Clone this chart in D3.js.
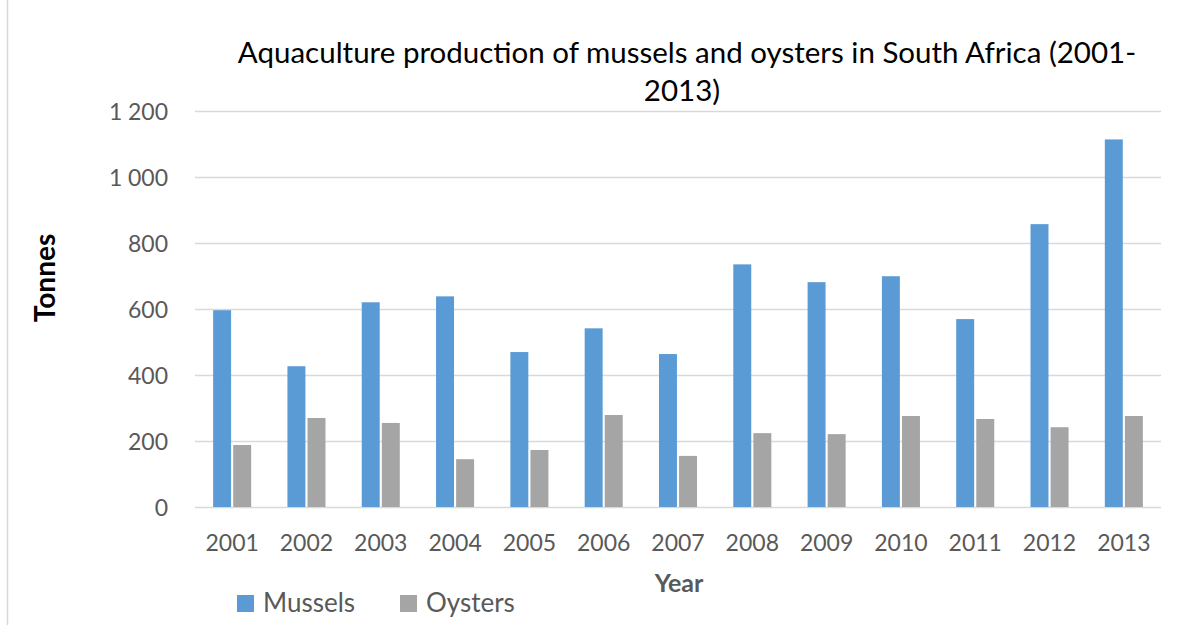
<!DOCTYPE html>
<html>
<head>
<meta charset="utf-8">
<script src="https://cdn.jsdelivr.net/npm/d3@7/dist/d3.min.js"></script>
<style>
  html, body { margin: 0; padding: 0; background: #fff; }
  svg { display: block; font-family: Lato, "Open Sans", sans-serif; }
</style>
</head>
<body>
<svg id="chart" width="1188" height="625"></svg>
<script>
// Annual aquaculture production (tonnes)
const years = ["2001","2002","2003","2004","2005","2006","2007","2008","2009","2010","2011","2012","2013"];
const seriesNames = ["Mussels", "Oysters"];
const mussels = [597, 427, 621, 639, 470, 542, 464, 736, 682, 700, 570, 858, 1115];
const oysters = [188, 270, 255, 145, 173, 279, 155, 224, 221, 276, 267, 242, 276];
const yTicks = [0, 200, 400, 600, 800, 1000, 1200];
const colors = ["#5B9BD5", "#A5A5A5"];

const svg = d3.select("#chart");
const textColor = "#595959";
const font = "Lato, 'Open Sans', sans-serif";

// left frame edge
svg.append("line")
  .attr("x1", 7.5).attr("x2", 7.5).attr("y1", 0).attr("y2", 625)
  .attr("stroke", "#d9d9d9").attr("stroke-width", 1.5);

const plot = { left: 195, right: 1161, top: 111.4, bottom: 507 };

const x0 = d3.scaleBand().domain(years)
  .range([plot.left, plot.right])
  .paddingInner(0.488).paddingOuter(0.244);
const x1 = d3.scaleBand().domain(seriesNames)
  .range([0, x0.bandwidth()])
  .paddingInner(0.105);
const y = d3.scaleLinear().domain([0, 1200]).range([plot.bottom, plot.top]);

// horizontal gridlines
svg.append("g").selectAll("line").data(yTicks).join("line")
  .attr("x1", plot.left).attr("x2", plot.right)
  .attr("y1", d => Math.round(y(d)) + 0.5).attr("y2", d => Math.round(y(d)) + 0.5)
  .attr("stroke", "#d9d9d9").attr("stroke-width", 1.5);

// y axis labels (thousands separated by a space)
const fmt = d => d >= 1000 ? d3.format(",")(d).replace(",", "\u2009\u2009") : String(d);
const yAxis = d3.axisLeft(y).tickValues(yTicks).tickSize(0).tickPadding(0).tickFormat(fmt);
svg.append("g")
  .attr("transform", "translate(168,0)")
  .call(yAxis)
  .call(g => g.select(".domain").remove())
  .call(g => g.selectAll("text")
    .attr("fill", textColor).attr("font-size", 23).attr("font-family", font)
    .attr("dy", "0.36em"));

// x axis labels
const xAxis = d3.axisBottom(x0).tickSize(0).tickPadding(0);
svg.append("g")
  .attr("transform", "translate(0,551)")
  .call(xAxis)
  .call(g => g.select(".domain").remove())
  .call(g => g.selectAll("text")
    .attr("fill", textColor).attr("font-size", 23).attr("font-family", font)
    .attr("y", 0).attr("dy", 0));

// bars
const rows = years.map((yr, i) => ({ year: yr, values: [mussels[i], oysters[i]] }));
svg.append("g").selectAll("g").data(rows).join("g")
  .attr("transform", d => `translate(${x0(d.year)},0)`)
  .selectAll("rect")
  .data(d => d.values.map((v, j) => ({ name: seriesNames[j], value: v, color: colors[j] })))
  .join("rect")
  .attr("x", d => x1(d.name))
  .attr("width", x1.bandwidth())
  .attr("y", d => y(d.value))
  .attr("height", d => y(0) - y(d.value))
  .attr("fill", d => d.color);

// title
const title = svg.append("text")
  .attr("text-anchor", "middle")
  .attr("fill", "#000")
  .attr("font-size", 29.5)
  .attr("font-family", font);
title.append("tspan").attr("x", 687).attr("y", 63)
  .text("Aquaculture production of mussels and oysters in South Africa (2001-");
title.append("tspan").attr("x", 682).attr("y", 101).text("2013)");

// axis titles
svg.append("text")
  .attr("transform", "translate(55,278) rotate(-90)")
  .attr("text-anchor", "middle")
  .attr("font-weight", "bold").attr("font-size", 28).attr("fill", "#000")
  .text("Tonnes");

svg.append("text")
  .attr("x", 679).attr("y", 592)
  .attr("text-anchor", "middle")
  .attr("font-weight", "bold").attr("font-size", 25).attr("fill", textColor)
  .text("Year");

// legend
const legendX = [237, 400];
const legend = svg.append("g").selectAll("g").data(seriesNames).join("g")
  .attr("transform", (d, i) => `translate(${legendX[i]},595)`);
legend.append("rect").attr("width", 17).attr("height", 17)
  .attr("fill", (d, i) => colors[i]);
legend.append("text").attr("x", 26).attr("y", 17)
  .attr("font-size", 26).attr("fill", textColor)
  .text(d => d);
</script>
</body>
</html>
